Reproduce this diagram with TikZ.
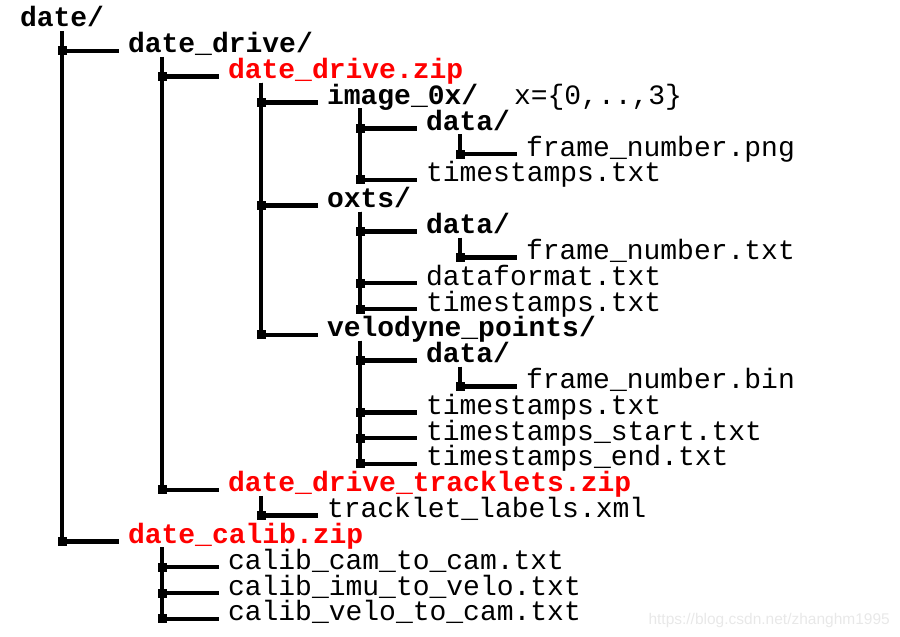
\documentclass[tikz,border=0pt]{standalone}
\usepackage{fontspec}
\setmonofont{Liberation Mono}
\setsansfont{Liberation Sans}
\usetikzlibrary{calc}
\definecolor{zipred}{RGB}{255,0,0}
\definecolor{wmgray}{RGB}{232,232,232}
\newcommand\treebranch[2]{%
  \draw[conn] let \p1=(#1.base west), \p2=(#2.base west) in
    (\x2-66pt,\y1-4pt) |- (\x2-9pt,\y2+2pt);
  \fill let \p2=(#2.base west) in
    (\x2-70.5pt,\y2+6.5pt) rectangle (\x2-61.5pt,\y2-2.5pt);}
\begin{document}
\begin{tikzpicture}[x=1pt,y=-1pt,
  entry/.style={anchor=base west,inner sep=0pt,outer sep=0pt,
    font=\ttfamily\fontsize{28}{30}\selectfont},
  dir/.style={entry,font=\ttfamily\bfseries\fontsize{28}{30}\selectfont},
  zip/.style={dir,text=zipred},
  conn/.style={line width=4.5pt,line join=miter}]
\useasboundingbox (0,0) rectangle (900,637);
\def\rs{25.82}
\node[dir]   (n1)  at (20, {27+\rs*0})  {date/};
\node[dir]   (n2)  at (128,{27+\rs*1})  {date\_drive/};
\node[zip]   (n3)  at (228,{27+\rs*2})  {date\_drive.zip};
\node[dir]   (n4)  at (327,{27+\rs*3})  {image\_0x/};
\node[entry] (n4x) at (514,{27+\rs*3})  {x=\{0,..,3\}};
\node[dir]   (n5)  at (426,{27+\rs*4})  {data/};
\node[entry] (n6)  at (526,{27+\rs*5})  {frame\_number.png};
\node[entry] (n7)  at (426,{27+\rs*6})  {timestamps.txt};
\node[dir]   (n8)  at (327,{27+\rs*7})  {oxts/};
\node[dir]   (n9)  at (426,{27+\rs*8})  {data/};
\node[entry] (n10) at (526,{27+\rs*9})  {frame\_number.txt};
\node[entry] (n11) at (426,{27+\rs*10}) {dataformat.txt};
\node[entry] (n12) at (426,{27+\rs*11}) {timestamps.txt};
\node[dir]   (n13) at (327,{27+\rs*12}) {velodyne\_points/};
\node[dir]   (n14) at (426,{27+\rs*13}) {data/};
\node[entry] (n15) at (526,{27+\rs*14}) {frame\_number.bin};
\node[entry] (n16) at (426,{27+\rs*15}) {timestamps.txt};
\node[entry] (n17) at (426,{27+\rs*16}) {timestamps\_start.txt};
\node[entry] (n18) at (426,{27+\rs*17}) {timestamps\_end.txt};
\node[zip]   (n19) at (228,{27+\rs*18}) {date\_drive\_tracklets.zip};
\node[entry] (n20) at (327,{27+\rs*19}) {tracklet\_labels.xml};
\node[zip]   (n21) at (128,{27+\rs*20}) {date\_calib.zip};
\node[entry] (n22) at (228,{27+\rs*21}) {calib\_cam\_to\_cam.txt};
\node[entry] (n23) at (228,{27+\rs*22}) {calib\_imu\_to\_velo.txt};
\node[entry] (n24) at (228,{27+\rs*23}) {calib\_velo\_to\_cam.txt};
\treebranch{n1}{n2}
\treebranch{n2}{n3}
\treebranch{n3}{n4}
\treebranch{n4}{n5}
\treebranch{n5}{n6}
\treebranch{n4}{n7}
\treebranch{n3}{n8}
\treebranch{n8}{n9}
\treebranch{n9}{n10}
\treebranch{n8}{n11}
\treebranch{n8}{n12}
\treebranch{n3}{n13}
\treebranch{n13}{n14}
\treebranch{n14}{n15}
\treebranch{n13}{n16}
\treebranch{n13}{n17}
\treebranch{n13}{n18}
\treebranch{n2}{n19}
\treebranch{n19}{n20}
\treebranch{n1}{n21}
\treebranch{n21}{n22}
\treebranch{n21}{n23}
\treebranch{n21}{n24}
\node[anchor=base east,inner sep=0pt,text=wmgray,
  font=\sffamily\fontsize{15.5}{17}\selectfont] (wm) at (890,624)
  {https://blog.csdn.net/zhanghm1995};
\end{tikzpicture}
\end{document}
